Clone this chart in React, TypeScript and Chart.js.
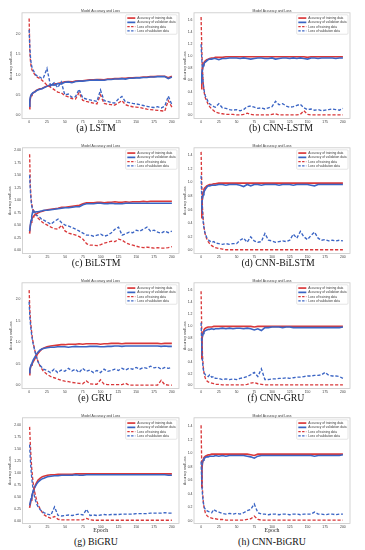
import React, { useEffect, useRef } from 'react';
import { Chart, registerables } from 'chart.js';

Chart.register(...registerables);

// ---------- shared axes / labels ----------
const EPOCHS = [0, 1, 2, 3, 4, 5, 6, 8, 10, 12, 15, 18, 20, 25, 30, 35, 40, 45, 50, 55, 60, 65, 70, 75, 80, 85, 90, 95, 100, 105, 110, 115, 120, 125, 130, 135, 140, 145, 150, 155, 160, 165, 170, 175, 180, 185, 190, 195, 200];
const X_TICKS = [0, 25, 50, 75, 100, 125, 150, 175, 200];
const Y_TICKS_HALF = [0, 0.5, 1, 1.5, 2];
const Y_TICKS_QUARTER = [0, 0.25, 0.5, 0.75, 1, 1.25, 1.5, 1.75, 2];
const Y_TICKS_FIFTH_16 = [0, 0.2, 0.4, 0.6, 0.8, 1, 1.2, 1.4, 1.6];
const Y_TICKS_FIFTH_14 = [0, 0.2, 0.4, 0.6, 0.8, 1, 1.2, 1.4];
const SERIES_LABELS = ['Accuracy of training data', 'Accuracy of validation data', 'Loss of training data', 'Loss of validation data'];
const CHART_TITLE = 'Model Accuracy and Loss';
const Y_TITLE = 'Accuracy and Loss';
const X_TITLE = 'Epoch';

// ---------- (a) LSTM ----------
const LSTM_TRAIN_ACC = [0.16, 0.33, 0.44, 0.49, 0.52, 0.54, 0.55, 0.58, 0.61, 0.63, 0.65, 0.66, 0.68, 0.72, 0.74, 0.77, 0.78, 0.8, 0.82, 0.83, 0.82, 0.84, 0.85, 0.85, 0.86, 0.87, 0.87, 0.88, 0.88, 0.87, 0.89, 0.89, 0.9, 0.9, 0.91, 0.91, 0.92, 0.92, 0.93, 0.93, 0.94, 0.94, 0.95, 0.95, 0.96, 0.96, 0.96, 0.92, 0.96];
const LSTM_VAL_ACC = [0.22, 0.38, 0.47, 0.51, 0.53, 0.55, 0.56, 0.57, 0.6, 0.62, 0.64, 0.65, 0.67, 0.71, 0.75, 0.74, 0.78, 0.77, 0.81, 0.82, 0.8, 0.83, 0.84, 0.84, 0.85, 0.86, 0.86, 0.87, 0.86, 0.86, 0.88, 0.88, 0.89, 0.89, 0.9, 0.89, 0.91, 0.91, 0.92, 0.92, 0.93, 0.93, 0.94, 0.94, 0.95, 0.95, 0.95, 0.9, 0.94];
const LSTM_TRAIN_LOSS = [2.38, 1.55, 1.3, 1.18, 1.12, 1.08, 1.05, 1.0, 0.96, 0.93, 0.9, 0.86, 0.83, 0.74, 0.69, 0.63, 0.57, 0.55, 0.48, 0.45, 0.41, 0.4, 0.56, 0.37, 0.34, 0.32, 0.3, 0.28, 0.5, 0.29, 0.27, 0.26, 0.25, 0.3, 0.36, 0.26, 0.23, 0.21, 0.2, 0.19, 0.17, 0.15, 0.14, 0.13, 0.12, 0.11, 0.1, 0.36, 0.2];
const LSTM_VAL_LOSS = [2.1, 1.65, 1.4, 1.25, 1.18, 1.13, 1.1, 1.03, 0.98, 0.96, 0.94, 0.9, 0.92, 1.15, 0.72, 0.8, 0.68, 0.82, 0.5, 0.52, 0.44, 0.46, 0.64, 0.43, 0.4, 0.38, 0.36, 0.34, 0.62, 0.36, 0.34, 0.31, 0.3, 0.4, 0.46, 0.33, 0.31, 0.29, 0.28, 0.26, 0.24, 0.22, 0.2, 0.19, 0.21, 0.18, 0.22, 0.47, 0.26];

// ---------- (b) CNN-LSTM ----------
const CNN_LSTM_TRAIN_ACC = [0.45, 0.68, 0.8, 0.86, 0.89, 0.91, 0.92, 0.94, 0.95, 0.96, 0.97, 0.97, 0.98, 0.98, 0.98, 0.99, 0.99, 0.99, 0.99, 0.99, 0.99, 0.99, 0.99, 0.99, 0.99, 0.99, 0.99, 0.99, 0.99, 0.99, 0.99, 0.99, 0.99, 0.99, 0.99, 0.99, 0.99, 0.99, 0.98, 0.99, 0.99, 0.99, 0.99, 0.99, 0.99, 0.99, 0.99, 0.99, 0.99];
const CNN_LSTM_VAL_ACC = [0.55, 0.7, 0.78, 0.84, 0.87, 0.89, 0.9, 0.92, 0.94, 0.95, 0.95, 0.96, 0.96, 0.94, 0.96, 0.96, 0.97, 0.97, 0.97, 0.96, 0.97, 0.96, 0.95, 0.96, 0.97, 0.97, 0.96, 0.96, 0.97, 0.95, 0.96, 0.97, 0.97, 0.96, 0.97, 0.96, 0.97, 0.96, 0.95, 0.97, 0.97, 0.96, 0.97, 0.97, 0.97, 0.97, 0.96, 0.97, 0.97];
const CNN_LSTM_TRAIN_LOSS = [1.66, 1.1, 0.75, 0.55, 0.42, 0.35, 0.3, 0.24, 0.19, 0.15, 0.11, 0.08, 0.06, 0.04, 0.03, 0.02, 0.02, 0.02, 0.01, 0.01, 0.02, 0.04, 0.02, 0.01, 0.01, 0.01, 0.01, 0.01, 0.02, 0.03, 0.01, 0.01, 0.01, 0.01, 0.01, 0.01, 0.02, 0.08, 0.02, 0.01, 0.01, 0.01, 0.01, 0.01, 0.01, 0.01, 0.01, 0.01, 0.01];
const CNN_LSTM_VAL_LOSS = [1.2, 0.95, 0.72, 0.55, 0.44, 0.38, 0.33, 0.28, 0.23, 0.2, 0.17, 0.15, 0.14, 0.2, 0.13, 0.12, 0.1, 0.09, 0.1, 0.08, 0.1, 0.15, 0.16, 0.14, 0.12, 0.13, 0.11, 0.13, 0.15, 0.24, 0.18, 0.2, 0.16, 0.14, 0.15, 0.17, 0.19, 0.13, 0.1, 0.11, 0.09, 0.1, 0.08, 0.09, 0.1, 0.11, 0.1, 0.09, 0.12];

// ---------- (c) BiLSTM ----------
const BILSTM_TRAIN_ACC = [0.33, 0.48, 0.56, 0.62, 0.65, 0.67, 0.69, 0.72, 0.73, 0.75, 0.77, 0.78, 0.79, 0.81, 0.82, 0.83, 0.84, 0.86, 0.86, 0.87, 0.88, 0.89, 0.9, 0.93, 0.95, 0.95, 0.95, 0.96, 0.96, 0.95, 0.96, 0.96, 0.97, 0.96, 0.96, 0.97, 0.96, 0.97, 0.97, 0.97, 0.98, 0.97, 0.98, 0.98, 0.98, 0.98, 0.98, 0.98, 0.98];
const BILSTM_VAL_ACC = [0.38, 0.5, 0.6, 0.68, 0.75, 0.8, 0.78, 0.76, 0.77, 0.77, 0.78, 0.79, 0.8, 0.8, 0.81, 0.82, 0.83, 0.84, 0.85, 0.85, 0.86, 0.87, 0.87, 0.91, 0.93, 0.93, 0.93, 0.94, 0.94, 0.93, 0.93, 0.94, 0.93, 0.93, 0.93, 0.94, 0.94, 0.94, 0.94, 0.94, 0.94, 0.94, 0.94, 0.94, 0.94, 0.94, 0.94, 0.94, 0.94];
const BILSTM_TRAIN_LOSS = [1.92, 1.3, 1.05, 0.92, 0.85, 0.8, 0.76, 0.72, 0.68, 0.64, 0.6, 0.56, 0.54, 0.5, 0.46, 0.43, 0.42, 0.5, 0.38, 0.34, 0.32, 0.3, 0.27, 0.22, 0.13, 0.1, 0.1, 0.09, 0.11, 0.14, 0.16, 0.18, 0.17, 0.22, 0.2, 0.15, 0.12, 0.1, 0.08, 0.06, 0.05, 0.06, 0.05, 0.04, 0.05, 0.04, 0.04, 0.05, 0.07];
const BILSTM_VAL_LOSS = [1.5, 1.2, 1.0, 0.88, 0.82, 0.78, 0.75, 0.72, 0.7, 0.68, 0.65, 0.6, 0.6, 0.56, 0.52, 0.58, 0.62, 0.55, 0.5, 0.48, 0.45, 0.42, 0.38, 0.34, 0.3, 0.3, 0.28, 0.3, 0.32, 0.28, 0.3, 0.35, 0.42, 0.46, 0.3, 0.33, 0.36, 0.35, 0.4, 0.38, 0.42, 0.46, 0.38, 0.4, 0.36, 0.34, 0.38, 0.35, 0.38];

// ---------- (d) CNN-BiLSTM ----------
const CNN_BILSTM_TRAIN_ACC = [0.48, 0.7, 0.8, 0.86, 0.9, 0.92, 0.93, 0.95, 0.96, 0.97, 0.97, 0.98, 0.98, 0.99, 0.99, 0.99, 0.99, 0.99, 0.99, 0.99, 0.99, 0.99, 0.99, 0.99, 0.99, 0.99, 0.99, 0.99, 0.99, 0.99, 0.99, 0.99, 0.99, 0.99, 0.99, 0.99, 0.99, 0.99, 0.99, 0.99, 0.99, 0.99, 0.99, 0.99, 0.99, 0.99, 0.99, 0.99, 0.99];
const CNN_BILSTM_VAL_ACC = [0.6, 0.7, 0.76, 0.82, 0.86, 0.88, 0.9, 0.93, 0.95, 0.95, 0.96, 0.96, 0.96, 0.97, 0.97, 0.96, 0.97, 0.97, 0.97, 0.96, 0.94, 0.97, 0.95, 0.97, 0.97, 0.96, 0.97, 0.97, 0.97, 0.97, 0.96, 0.97, 0.97, 0.97, 0.96, 0.97, 0.97, 0.97, 0.97, 0.96, 0.95, 0.97, 0.97, 0.97, 0.97, 0.97, 0.97, 0.97, 0.97];
const CNN_BILSTM_TRAIN_LOSS = [1.45, 0.95, 0.62, 0.45, 0.35, 0.28, 0.23, 0.17, 0.13, 0.1, 0.07, 0.05, 0.04, 0.03, 0.02, 0.01, 0.01, 0.01, 0.01, 0.01, 0.01, 0.01, 0.01, 0.01, 0.01, 0.01, 0.01, 0.01, 0.01, 0.01, 0.01, 0.01, 0.01, 0.01, 0.01, 0.01, 0.01, 0.01, 0.01, 0.01, 0.01, 0.01, 0.01, 0.01, 0.01, 0.01, 0.01, 0.01, 0.01];
const CNN_BILSTM_VAL_LOSS = [1.1, 0.75, 0.55, 0.42, 0.34, 0.28, 0.24, 0.19, 0.16, 0.14, 0.12, 0.13, 0.11, 0.1, 0.09, 0.1, 0.09, 0.1, 0.1, 0.15, 0.18, 0.12, 0.2, 0.14, 0.12, 0.13, 0.25, 0.15, 0.14, 0.12, 0.13, 0.14, 0.13, 0.15, 0.24, 0.18, 0.28, 0.2, 0.16, 0.22, 0.27, 0.18, 0.15, 0.16, 0.14, 0.15, 0.14, 0.15, 0.14];

// ---------- (e) GRU ----------
const GRU_TRAIN_ACC = [0.25, 0.35, 0.42, 0.47, 0.5, 0.53, 0.56, 0.62, 0.68, 0.74, 0.8, 0.85, 0.87, 0.9, 0.92, 0.93, 0.94, 0.95, 0.95, 0.96, 0.96, 0.96, 0.97, 0.96, 0.97, 0.97, 0.97, 0.97, 0.96, 0.97, 0.97, 0.98, 0.98, 0.98, 0.97, 0.98, 0.98, 0.98, 0.98, 0.98, 0.98, 0.98, 0.98, 0.98, 0.98, 0.97, 0.98, 0.98, 0.98];
const GRU_VAL_ACC = [0.3, 0.38, 0.44, 0.49, 0.52, 0.56, 0.6, 0.66, 0.72, 0.77, 0.82, 0.85, 0.86, 0.88, 0.89, 0.89, 0.9, 0.9, 0.9, 0.89, 0.9, 0.91, 0.9, 0.9, 0.9, 0.91, 0.91, 0.91, 0.9, 0.9, 0.91, 0.91, 0.92, 0.92, 0.91, 0.92, 0.92, 0.92, 0.92, 0.92, 0.92, 0.92, 0.92, 0.92, 0.92, 0.91, 0.92, 0.91, 0.91];
const GRU_TRAIN_LOSS = [2.22, 1.75, 1.5, 1.32, 1.18, 1.06, 0.97, 0.82, 0.7, 0.58, 0.46, 0.38, 0.33, 0.26, 0.21, 0.18, 0.15, 0.12, 0.1, 0.09, 0.07, 0.06, 0.05, 0.04, 0.11, 0.04, 0.03, 0.03, 0.13, 0.03, 0.02, 0.02, 0.02, 0.02, 0.02, 0.05, 0.01, 0.01, 0.01, 0.01, 0.01, 0.01, 0.01, 0.01, 0.01, 0.12, 0.02, 0.01, 0.01];
const GRU_VAL_LOSS = [1.95, 1.6, 1.4, 1.25, 1.12, 1.02, 0.94, 0.8, 0.68, 0.57, 0.47, 0.42, 0.38, 0.35, 0.3, 0.38, 0.3, 0.36, 0.33, 0.4, 0.34, 0.38, 0.3, 0.4, 0.33, 0.36, 0.3, 0.35, 0.3, 0.38, 0.33, 0.35, 0.38, 0.35, 0.4, 0.36, 0.4, 0.38, 0.42, 0.38, 0.42, 0.4, 0.45, 0.41, 0.43, 0.38, 0.42, 0.4, 0.42];

// ---------- (f) CNN-GRU ----------
const CNN_GRU_TRAIN_ACC = [0.45, 0.72, 0.85, 0.9, 0.93, 0.95, 0.96, 0.97, 0.98, 0.98, 0.98, 0.99, 0.99, 0.99, 0.99, 0.99, 0.99, 0.99, 0.99, 0.99, 0.99, 0.99, 0.99, 0.98, 0.99, 0.99, 0.99, 0.99, 0.99, 0.99, 0.99, 0.99, 0.99, 0.99, 0.99, 0.99, 0.99, 0.99, 0.99, 0.99, 0.99, 0.99, 0.99, 0.99, 0.99, 0.99, 0.99, 0.99, 0.99];
const CNN_GRU_VAL_ACC = [0.55, 0.75, 0.83, 0.87, 0.9, 0.91, 0.92, 0.93, 0.94, 0.94, 0.95, 0.94, 0.95, 0.95, 0.96, 0.95, 0.96, 0.95, 0.96, 0.96, 0.95, 0.96, 0.95, 0.93, 0.95, 0.92, 0.97, 0.97, 0.98, 0.98, 0.98, 0.97, 0.98, 0.98, 0.97, 0.97, 0.97, 0.97, 0.97, 0.97, 0.97, 0.97, 0.97, 0.97, 0.97, 0.97, 0.97, 0.97, 0.98];
const CNN_GRU_TRAIN_LOSS = [1.58, 0.85, 0.5, 0.32, 0.22, 0.16, 0.12, 0.08, 0.06, 0.05, 0.04, 0.03, 0.02, 0.02, 0.01, 0.01, 0.01, 0.01, 0.01, 0.01, 0.01, 0.02, 0.04, 0.05, 0.03, 0.02, 0.01, 0.01, 0.01, 0.01, 0.01, 0.01, 0.01, 0.01, 0.01, 0.01, 0.01, 0.01, 0.01, 0.01, 0.01, 0.01, 0.01, 0.01, 0.01, 0.01, 0.01, 0.01, 0.01];
const CNN_GRU_VAL_LOSS = [1.05, 0.62, 0.4, 0.28, 0.22, 0.2, 0.18, 0.17, 0.15, 0.18, 0.14, 0.15, 0.12, 0.12, 0.1, 0.11, 0.1, 0.11, 0.1, 0.12, 0.13, 0.15, 0.18, 0.22, 0.15, 0.28, 0.1, 0.1, 0.11, 0.11, 0.12, 0.12, 0.13, 0.12, 0.13, 0.14, 0.14, 0.15, 0.16, 0.16, 0.17, 0.17, 0.18, 0.22, 0.17, 0.16, 0.16, 0.15, 0.12];

// ---------- (g) BiGRU ----------
const BIGRU_TRAIN_ACC = [0.28, 0.36, 0.44, 0.5, 0.56, 0.62, 0.67, 0.75, 0.81, 0.86, 0.9, 0.93, 0.94, 0.96, 0.97, 0.97, 0.98, 0.98, 0.98, 0.98, 0.98, 0.99, 0.99, 0.99, 0.99, 0.99, 0.99, 0.99, 0.99, 0.99, 0.99, 0.99, 0.99, 0.99, 0.99, 0.99, 0.99, 0.99, 0.99, 0.99, 0.99, 0.99, 0.99, 0.99, 0.99, 0.99, 0.99, 0.99, 0.99];
const BIGRU_VAL_ACC = [0.33, 0.4, 0.47, 0.53, 0.58, 0.63, 0.67, 0.73, 0.78, 0.82, 0.86, 0.89, 0.9, 0.93, 0.94, 0.95, 0.95, 0.96, 0.96, 0.96, 0.96, 0.97, 0.96, 0.96, 0.97, 0.97, 0.97, 0.97, 0.97, 0.97, 0.97, 0.97, 0.97, 0.97, 0.97, 0.97, 0.97, 0.97, 0.97, 0.97, 0.97, 0.97, 0.97, 0.97, 0.97, 0.97, 0.97, 0.96, 0.96];
const BIGRU_TRAIN_LOSS = [1.97, 1.6, 1.32, 1.1, 0.93, 0.8, 0.7, 0.55, 0.43, 0.34, 0.25, 0.18, 0.14, 0.09, 0.06, 0.1, 0.04, 0.03, 0.03, 0.03, 0.03, 0.03, 0.03, 0.03, 0.06, 0.03, 0.02, 0.02, 0.02, 0.02, 0.02, 0.02, 0.02, 0.02, 0.02, 0.02, 0.02, 0.02, 0.02, 0.02, 0.02, 0.02, 0.02, 0.02, 0.02, 0.02, 0.02, 0.02, 0.02];
const BIGRU_VAL_LOSS = [1.6, 1.3, 1.08, 0.9, 0.77, 0.66, 0.57, 0.45, 0.36, 0.3, 0.24, 0.2, 0.18, 0.15, 0.13, 0.3, 0.12, 0.11, 0.12, 0.13, 0.12, 0.14, 0.15, 0.13, 0.25, 0.12, 0.13, 0.12, 0.13, 0.14, 0.13, 0.14, 0.14, 0.14, 0.15, 0.15, 0.15, 0.15, 0.16, 0.16, 0.16, 0.16, 0.17, 0.17, 0.17, 0.17, 0.18, 0.17, 0.17];

// ---------- (h) CNN-BiGRU ----------
const CNN_BIGRU_TRAIN_ACC = [0.5, 0.75, 0.86, 0.91, 0.94, 0.95, 0.96, 0.97, 0.98, 0.98, 0.99, 0.99, 0.99, 0.99, 0.99, 0.99, 0.99, 0.99, 0.99, 0.99, 0.99, 0.99, 0.98, 0.97, 0.99, 0.99, 0.99, 0.99, 0.99, 0.99, 0.99, 0.99, 0.99, 0.99, 0.99, 0.99, 0.99, 0.99, 0.99, 0.99, 0.99, 0.99, 0.99, 0.99, 0.99, 0.99, 0.99, 0.99, 0.99];
const CNN_BIGRU_VAL_ACC = [0.62, 0.8, 0.87, 0.9, 0.92, 0.93, 0.94, 0.95, 0.95, 0.96, 0.96, 0.96, 0.97, 0.96, 0.97, 0.96, 0.97, 0.97, 0.97, 0.97, 0.97, 0.96, 0.95, 0.93, 0.96, 0.97, 0.97, 0.97, 0.97, 0.97, 0.97, 0.97, 0.97, 0.97, 0.97, 0.97, 0.97, 0.97, 0.97, 0.97, 0.96, 0.97, 0.97, 0.97, 0.97, 0.97, 0.97, 0.97, 0.98];
const CNN_BIGRU_TRAIN_LOSS = [1.42, 0.75, 0.45, 0.3, 0.21, 0.16, 0.12, 0.08, 0.06, 0.05, 0.04, 0.03, 0.03, 0.02, 0.02, 0.01, 0.01, 0.01, 0.01, 0.01, 0.01, 0.02, 0.03, 0.07, 0.02, 0.01, 0.01, 0.01, 0.01, 0.01, 0.01, 0.01, 0.01, 0.01, 0.01, 0.01, 0.01, 0.01, 0.01, 0.01, 0.01, 0.01, 0.01, 0.01, 0.01, 0.01, 0.01, 0.01, 0.01];
const CNN_BIGRU_VAL_LOSS = [0.88, 0.55, 0.38, 0.28, 0.22, 0.19, 0.17, 0.15, 0.14, 0.13, 0.12, 0.17, 0.15, 0.13, 0.11, 0.1, 0.11, 0.1, 0.11, 0.1, 0.12, 0.15, 0.17, 0.25, 0.12, 0.1, 0.1, 0.09, 0.1, 0.1, 0.09, 0.1, 0.1, 0.09, 0.1, 0.1, 0.09, 0.1, 0.1, 0.1, 0.13, 0.1, 0.1, 0.09, 0.1, 0.1, 0.09, 0.1, 0.1];

// ---------- styling ----------
const RED = '#d9383a';
const BLUE = '#3a64c4';
const TEXT = '#3a3a3a';
const SANS = '"Liberation Sans", Arial, sans-serif';
const SERIF = '"Liberation Serif", "DejaVu Serif", serif';
const SMALL = 3.4;

type PanelDef = {
  caption: string;
  col: number;
  row: number;
  series: number[][];
  yMin: number;
  yMax: number;
  yTicks: number[];
  dec: number;
  capX: number;
};

const PANELS: PanelDef[] = [
  { caption: '(a) LSTM', col: 0, row: 0, series: [LSTM_TRAIN_ACC, LSTM_VAL_ACC, LSTM_TRAIN_LOSS, LSTM_VAL_LOSS], yMin: -0.08, yMax: 2.52, yTicks: Y_TICKS_HALF, dec: 1, capX: 96 },
  { caption: '(b) CNN-LSTM', col: 1, row: 0, series: [CNN_LSTM_TRAIN_ACC, CNN_LSTM_VAL_ACC, CNN_LSTM_TRAIN_LOSS, CNN_LSTM_VAL_LOSS], yMin: -0.05, yMax: 1.73, yTicks: Y_TICKS_FIFTH_16, dec: 1, capX: 281 },
  { caption: '(c) BiLSTM', col: 0, row: 1, series: [BILSTM_TRAIN_ACC, BILSTM_VAL_ACC, BILSTM_TRAIN_LOSS, BILSTM_VAL_LOSS], yMin: -0.067, yMax: 2.05, yTicks: Y_TICKS_QUARTER, dec: 2, capX: 96 },
  { caption: '(d) CNN-BiLSTM', col: 1, row: 1, series: [CNN_BILSTM_TRAIN_ACC, CNN_BILSTM_VAL_ACC, CNN_BILSTM_TRAIN_LOSS, CNN_BILSTM_VAL_LOSS], yMin: -0.045, yMax: 1.51, yTicks: Y_TICKS_FIFTH_14, dec: 1, capX: 278 },
  { caption: '(e) GRU', col: 0, row: 2, series: [GRU_TRAIN_ACC, GRU_VAL_ACC, GRU_TRAIN_LOSS, GRU_VAL_LOSS], yMin: -0.07, yMax: 2.39, yTicks: Y_TICKS_HALF, dec: 1, capX: 95 },
  { caption: '(f) CNN-GRU', col: 1, row: 2, series: [CNN_GRU_TRAIN_ACC, CNN_GRU_VAL_ACC, CNN_GRU_TRAIN_LOSS, CNN_GRU_VAL_LOSS], yMin: -0.05, yMax: 1.72, yTicks: Y_TICKS_FIFTH_16, dec: 1, capX: 276 },
  { caption: '(g) BiGRU', col: 0, row: 3, series: [BIGRU_TRAIN_ACC, BIGRU_VAL_ACC, BIGRU_TRAIN_LOSS, BIGRU_VAL_LOSS], yMin: -0.047, yMax: 2.16, yTicks: Y_TICKS_QUARTER, dec: 2, capX: 96 },
  { caption: '(h) CNN-BiGRU', col: 1, row: 3, series: [CNN_BIGRU_TRAIN_ACC, CNN_BIGRU_VAL_ACC, CNN_BIGRU_TRAIN_LOSS, CNN_BIGRU_VAL_LOSS], yMin: -0.04, yMax: 1.53, yTicks: Y_TICKS_FIFTH_14, dec: 1, capX: 272 },
];

const ROW_TOP = [0, 135, 270, 405];
const CAPTION_Y = [127.5, 262.5, 397.5, 541.5];
const COL_LEFT = [0, 182];
const COL_WIDTH = [182, 183];
const FRAME_TOP = 12.8;
const FRAME_BOTTOM = 118.5;

const framePlugin = {
  id: 'frameBox',
  beforeDatasetsDraw(chart: any) {
    const { ctx, chartArea: a } = chart;
    ctx.save();
    ctx.strokeStyle = '#c8c8c8';
    ctx.lineWidth = 0.8;
    ctx.strokeRect(a.left, a.top, a.right - a.left, a.bottom - a.top);
    ctx.restore();
  },
};

const titlePlugin = {
  id: 'smallTitle',
  afterDraw(chart: any) {
    const { ctx, chartArea: a } = chart;
    ctx.save();
    ctx.font = `${SMALL}px ${SANS}`;
    ctx.fillStyle = TEXT;
    ctx.textAlign = 'center';
    ctx.textBaseline = 'alphabetic';
    ctx.fillText(CHART_TITLE, (a.left + a.right) / 2, a.top - 1.2);
    ctx.restore();
  },
};

const legendPlugin = {
  id: 'insideLegend',
  afterDatasetsDraw(chart: any) {
    const { ctx, chartArea: a } = chart;
    const ds = chart.data.datasets;
    ctx.save();
    const fs = 3.2;
    ctx.font = `${fs}px ${SANS}`;
    let tw = 0;
    ds.forEach((d: any) => { tw = Math.max(tw, ctx.measureText(d.label).width); });
    const rowH = 4.3, pad = 1.6, sample = 8, gap = 2;
    const w = pad + sample + gap + tw + pad;
    const h = rowH * ds.length + pad * 1.4;
    const x = a.right - 2 - w;
    const y = a.top + 2;
    ctx.fillStyle = 'rgba(255,255,255,0.85)';
    ctx.strokeStyle = '#d4d4d4';
    ctx.lineWidth = 0.6;
    ctx.beginPath();
    if ((ctx as any).roundRect) (ctx as any).roundRect(x, y, w, h, 1);
    else ctx.rect(x, y, w, h);
    ctx.fill();
    ctx.stroke();
    ds.forEach((d: any, i: number) => {
      const cy = y + pad * 0.7 + rowH * (i + 0.5);
      const dashed = d.borderDash && d.borderDash.length;
      ctx.strokeStyle = d.borderColor;
      ctx.lineWidth = dashed ? 1.3 : 1.7;
      ctx.setLineDash(dashed ? [2.4, 1.4] : []);
      ctx.beginPath();
      ctx.moveTo(x + pad, cy);
      ctx.lineTo(x + pad + sample, cy);
      ctx.stroke();
      ctx.setLineDash([]);
      ctx.fillStyle = TEXT;
      ctx.textAlign = 'left';
      ctx.textBaseline = 'middle';
      ctx.fillText(d.label, x + pad + sample + gap, cy + 0.2);
    });
    ctx.restore();
  },
};

function PanelChart({ p }: { p: PanelDef }) {
  const ref = useRef<HTMLCanvasElement | null>(null);
  const isLast = p.row === 3;
  const width = COL_WIDTH[p.col];
  const height = isLast ? 130 : 124;
  const frameLeft = p.col === 0 ? (p.dec === 2 ? 22.5 : 22) : 12;
  const frameRight = p.col === 0 ? 179 : 168;

  useEffect(() => {
    if (!ref.current) return;
    const colors = [RED, BLUE, RED, BLUE];
    const datasets = p.series.map((vals, i) => ({
      label: SERIES_LABELS[i],
      data: EPOCHS.map((e, j) => ({ x: e, y: vals[j] })),
      borderColor: colors[i],
      backgroundColor: colors[i],
      borderWidth: i < 2 ? 1.6 : 1.35,
      borderDash: i < 2 ? [] : [3.2, 1.8],
      pointRadius: 0,
      tension: 0,
      fill: false,
      order: 4 - i,
    }));
    const chart = new Chart(ref.current, {
      type: 'line',
      data: { datasets },
      options: {
        animation: false,
        responsive: false,
        maintainAspectRatio: false,
        devicePixelRatio: 1,
        layout: { padding: { top: FRAME_TOP, right: width - frameRight, left: 0, bottom: 0 } },
        plugins: { legend: { display: false }, title: { display: false }, tooltip: { enabled: false } },
        scales: {
          x: {
            type: 'linear',
            min: -10,
            max: 210,
            grid: { display: false, drawTicks: false, tickLength: 0 },
            border: { display: false },
            afterBuildTicks: (s: any) => { s.ticks = X_TICKS.map((v) => ({ value: v })); },
            afterFit: (s: any) => { s.height = height - FRAME_BOTTOM; },
            ticks: {
              autoSkip: false,
              maxRotation: 0,
              padding: 1.3,
              color: TEXT,
              font: { size: SMALL, family: SANS },
              callback: (v: any) => String(v),
            },
            title: isLast
              ? { display: true, text: X_TITLE, color: '#222', font: { size: 5.8, family: SERIF }, padding: { top: 0, bottom: 0.6 } }
              : { display: false },
          },
          y: {
            type: 'linear',
            min: p.yMin,
            max: p.yMax,
            grid: { display: false, drawTicks: false, tickLength: 0 },
            border: { display: false },
            afterBuildTicks: (s: any) => { s.ticks = p.yTicks.map((v) => ({ value: v })); },
            afterFit: (s: any) => { s.width = frameLeft; },
            ticks: {
              autoSkip: false,
              padding: 1.6,
              color: TEXT,
              font: { size: SMALL, family: SANS },
              callback: (v: any) => Number(v).toFixed(p.dec),
            },
            title: {
              display: true,
              text: Y_TITLE,
              color: TEXT,
              font: { size: SMALL, family: SANS },
              padding: { top: p.col === 0 ? (p.dec === 2 ? 7.8 : 9) : 1, bottom: 0 },
            },
          },
        },
      },
      plugins: [framePlugin, titlePlugin, legendPlugin],
    });
    return () => chart.destroy();
  }, [p]);

  return (
    <canvas
      ref={ref}
      width={width}
      height={height}
      style={{ position: 'absolute', left: COL_LEFT[p.col], top: ROW_TOP[p.row], width, height }}
    />
  );
}

export default function App() {
  return (
    <div style={{ position: 'absolute', left: 0, top: 0, width: 365, height: 550, background: '#fff', overflow: 'hidden' }}>
      {PANELS.map((p) => (
        <PanelChart key={p.caption} p={p} />
      ))}
      {PANELS.map((p) => (
        <div
          key={p.caption + '-cap'}
          style={{
            position: 'absolute',
            left: p.capX,
            top: CAPTION_Y[p.row],
            transform: 'translate(-50%, -50%)',
            fontFamily: SERIF,
            fontSize: 9.8,
            lineHeight: 1,
            color: '#111',
            whiteSpace: 'nowrap',
          }}
        >
          {p.caption}
        </div>
      ))}
    </div>
  );
}
